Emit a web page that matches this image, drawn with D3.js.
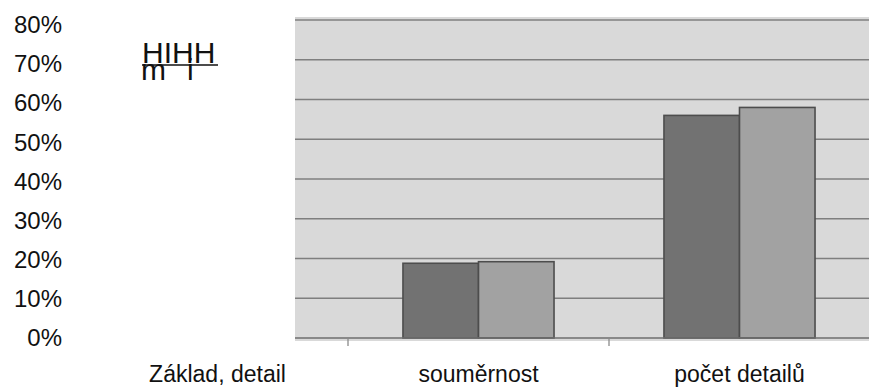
<!DOCTYPE html>
<html>
<head>
<meta charset="utf-8">
<script src="https://cdn.jsdelivr.net/npm/d3@7"></script>
<style>
  html, body { margin: 0; padding: 0; background: #fff; }
  svg { display: block; }
  text { font-family: "Liberation Sans", Arial, sans-serif; fill: #111; }
</style>
</head>
<body>
<svg id="chart" width="869" height="390"></svg>
<script>
// Categories along the x axis
const categories = ["Základ, detail", "souměrnost", "počet detailů"];
// Two series of shares per category (first category has no visible bars)
const seriesNames = ["A", "B"];
const seriesA = [null, 0.188, 0.560];
const seriesB = [null, 0.192, 0.580];
// Tick values of the percentage axis
const yTicks = [0, 0.1, 0.2, 0.3, 0.4, 0.5, 0.6, 0.7, 0.8];
const yTickLabels = ["0%", "10%", "20%", "30%", "40%", "50%", "60%", "70%", "80%"];

const W = 869, H = 390;
const svg = d3.select("#chart");

const plotLeft = 295, plotRight = 869, plotTop = 17, plotBottom = 341;

// Category bands; the first band runs partly outside the shaded area
const x0 = d3.scaleBand().domain(categories).range([87, 870]).paddingInner(0).paddingOuter(0);
const x1 = d3.scaleBand().domain(seriesNames).range([0, x0.bandwidth()]).paddingInner(0).paddingOuter(0.728);
const y = d3.scaleLinear().domain([0, 0.8]).range([338, 20]);
// Tick labels sit a little lower than the grid at the top
const yLabel = d3.scaleLinear().domain([0, 0.8]).range([338, 25]);

const defs = svg.append("defs");
defs.append("filter").attr("id", "soft")
  .attr("x", "-2%").attr("y", "-2%").attr("width", "104%").attr("height", "104%")
  .append("feGaussianBlur").attr("stdDeviation", 0.55);

const plot = svg.append("g").attr("filter", "url(#soft)");

plot.append("rect")
  .attr("x", plotLeft).attr("y", plotTop)
  .attr("width", plotRight - plotLeft).attr("height", plotBottom - plotTop)
  .attr("fill", "#d9d9d9");

// Horizontal grid
plot.append("g").selectAll("line")
  .data(yTicks.filter(d => d > 0))
  .join("line")
  .attr("x1", plotLeft).attr("x2", plotRight)
  .attr("y1", d => y(d)).attr("y2", d => y(d))
  .attr("stroke", "#7f7f7f").attr("stroke-width", 1.4);

// Bars
const rows = categories.map((c, i) => ({ cat: c, values: [
  { s: "A", v: seriesA[i] }, { s: "B", v: seriesB[i] }
].filter(d => d.v != null) }));

const fills = { A: "#727272", B: "#a2a2a2" };
plot.append("g").selectAll("g")
  .data(rows)
  .join("g")
  .attr("transform", d => `translate(${x0(d.cat)},0)`)
  .selectAll("rect")
  .data(d => d.values)
  .join("rect")
  .attr("x", d => x1(d.s))
  .attr("width", x1.bandwidth())
  .attr("y", d => y(d.v))
  .attr("height", d => y(0) - y(d.v))
  .attr("fill", d => fills[d.s])
  .attr("stroke", "#4d4d4d").attr("stroke-width", 1.6);

// Baseline and category separators
plot.append("line")
  .attr("x1", plotLeft).attr("x2", plotRight)
  .attr("y1", y(0)).attr("y2", y(0))
  .attr("stroke", "#6e6e6e").attr("stroke-width", 1.5);

plot.append("g").selectAll("line")
  .data(categories.slice(1))
  .join("line")
  .attr("x1", d => x0(d)).attr("x2", d => x0(d))
  .attr("y1", y(0)).attr("y2", y(0) + 8)
  .attr("stroke", "#8a8a8a").attr("stroke-width", 1.3);

// Percentage labels
const yAxis = d3.axisLeft(yLabel)
  .tickValues(yTicks)
  .tickFormat((d, i) => yTickLabels[i])
  .tickSize(0).tickPadding(0);
const gy = svg.append("g").attr("transform", "translate(62,0)").call(yAxis);
gy.select(".domain").remove();
gy.selectAll("text")
  .attr("font-family", "Liberation Sans, Arial, sans-serif")
  .attr("font-size", 24).attr("fill", "#111");

// Category labels
svg.append("g").selectAll("text")
  .data(categories)
  .join("text")
  .attr("x", d => x0(d) + x0.bandwidth() / 2)
  .attr("y", 382)
  .attr("text-anchor", "middle")
  .attr("font-size", 23)
  .text(d => d);

// Stray heading text in the upper left
const stray = svg.append("g");
stray.append("text").attr("x", 142).attr("y", 63).attr("font-size", 30).text("HIHH");
stray.append("line").attr("x1", 142).attr("x2", 218).attr("y1", 65).attr("y2", 65)
  .attr("stroke", "#111").attr("stroke-width", 1.5);
stray.append("text").attr("x", 141).attr("y", 80).attr("font-size", 30).text("m");
stray.append("text").attr("x", 187).attr("y", 80).attr("font-size", 30).text("i");
</script>
</body>
</html>
